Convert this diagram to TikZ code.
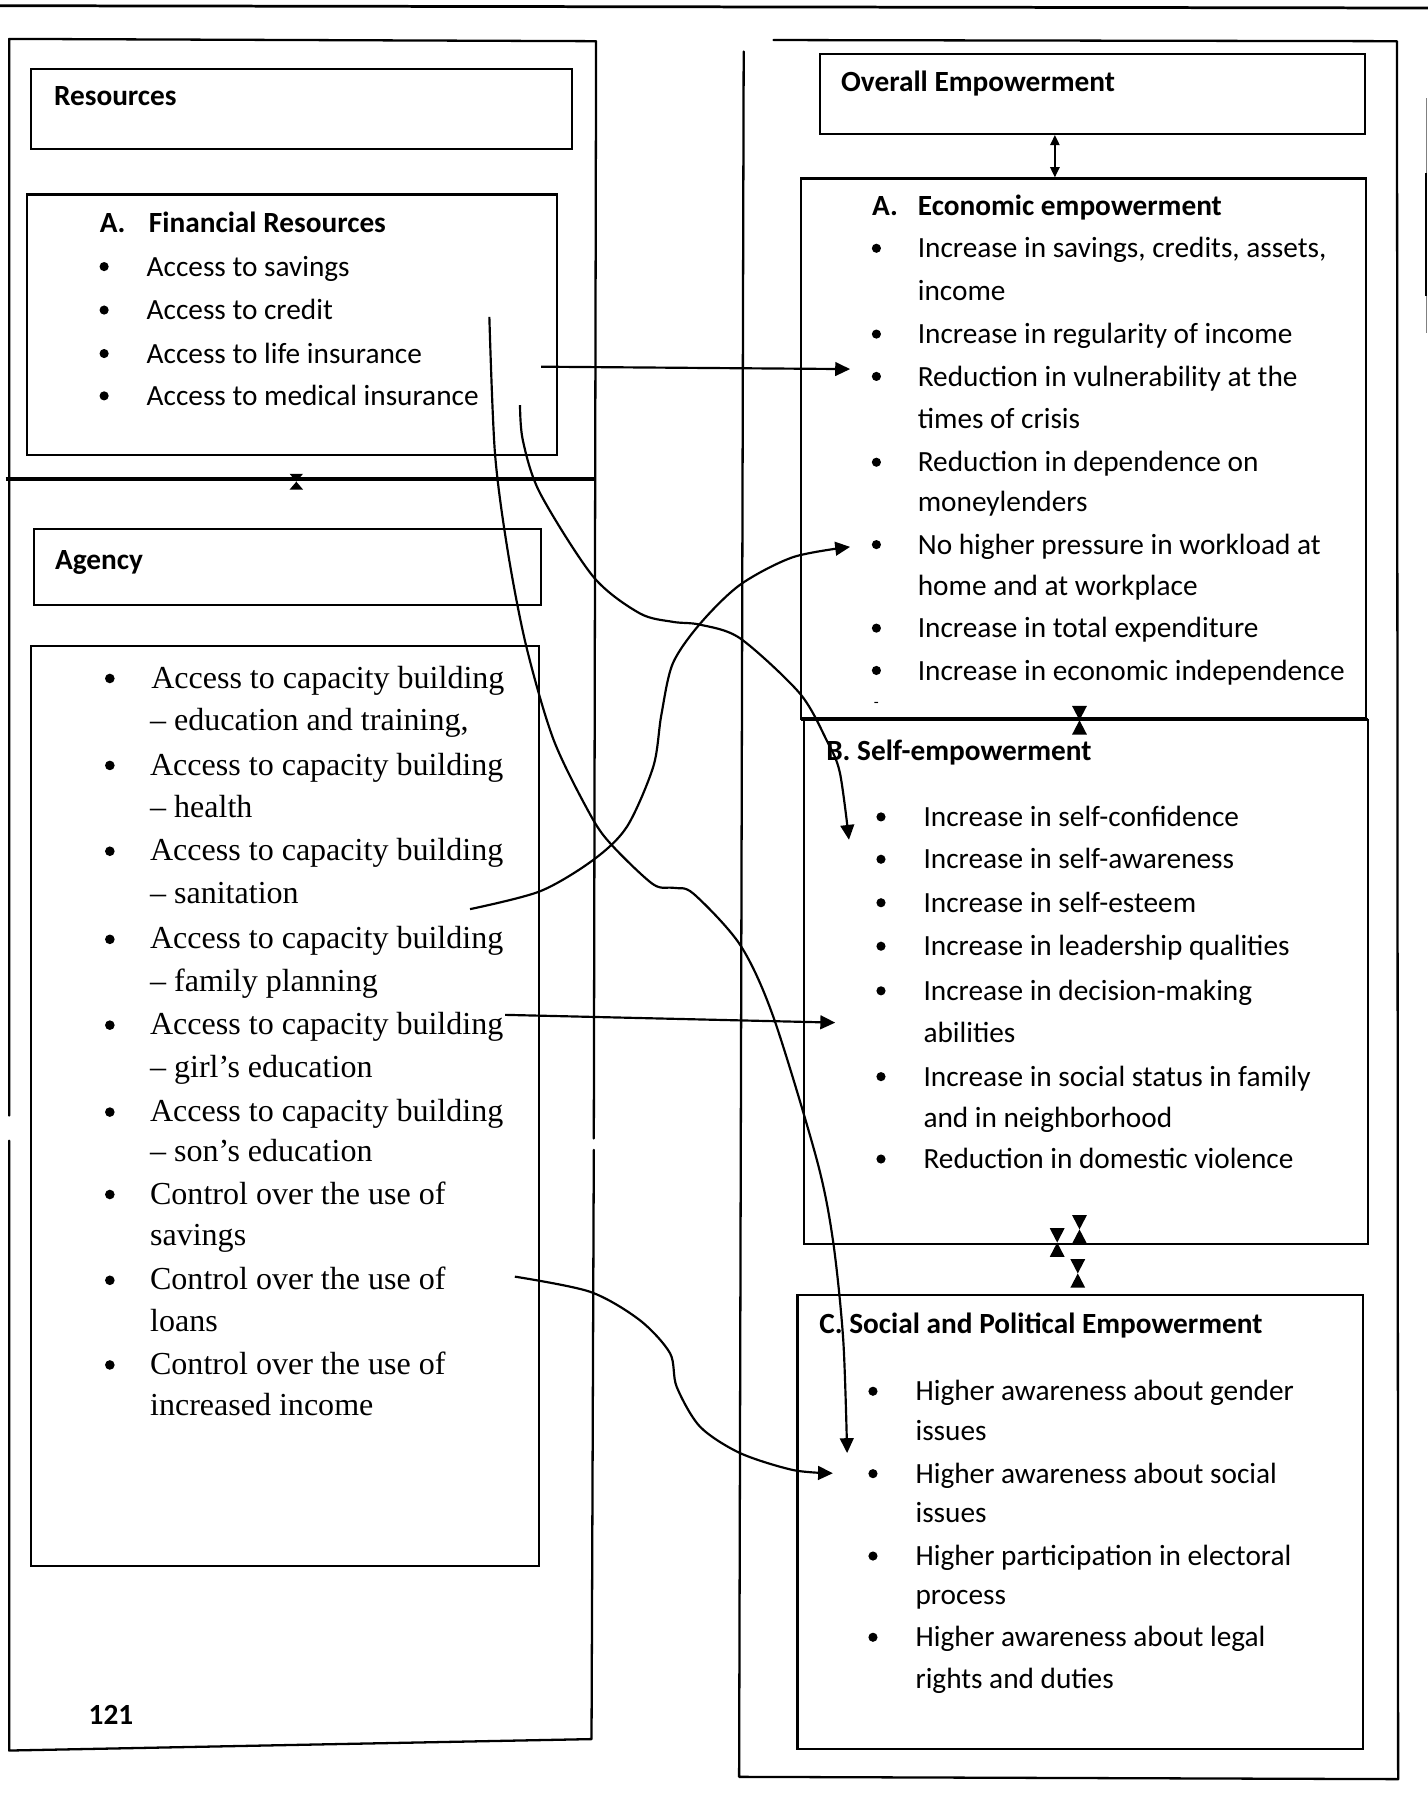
\documentclass[tikz,border=0pt]{standalone}
\usepackage{fontspec}
\setmainfont{Carlito}
\newfontfamily\tnrfont{Liberation Serif}
\usetikzlibrary{arrows.meta,fit}
\begin{document}
\begin{tikzpicture}[x=1pt,y=-1pt,
  frame/.style={line width=2pt, line cap=round, line join=round},
  boxst/.style={draw, line width=1.8pt, inner sep=0pt},
  divider/.style={line width=3pt},
  sf/.style={font=\fontsize{25.6}{30}\selectfont, inner sep=0pt, anchor=mid west, yshift=-6pt},
  sfb/.style={font=\fontsize{25.6}{30}\selectfont\bfseries, inner sep=0pt, anchor=mid west, yshift=-6pt},
  tr/.style={font=\tnrfont\fontsize{28}{32}\selectfont, inner sep=0pt, anchor=mid west, yshift=-6pt},
  conn/.style={line width=1.9pt, -{Triangle[length=13pt,width=12pt]}},
  dbl/.style={line width=1.9pt, {Triangle[length=9pt,width=8pt]}-{Triangle[length=9pt,width=8pt]}},
  hglass/.pic={\fill (-6.5,-12.5) -- (6.5,-12.5) -- (0,0) -- cycle;
               \fill (-6.5,12.5) -- (6.5,12.5) -- (0,0) -- cycle;}
]
\useasboundingbox (0,0) rectangle (1248,1568);

% page rules
\draw[line width=2.4pt] (0,5) -- (1248,7);
\draw[line width=1pt, gray] (1246.5,86) -- (1246.5,291);
\draw[line width=2.2pt] (1246.5,151) -- (1246.5,259);

% left outer frame (with small gaps)
\draw[frame] (8,975) -- (8,34) -- (521,36) -- (519,995);
\draw[frame] (519,1005) -- (517,1520) -- (8,1530) -- (8,997);
\draw[divider] (5,418.5) -- (519,418.5);

% right outer frame
\draw[frame] (650,45) -- (646,1553) -- (1222,1555) -- (1221,36) -- (676,35);

% boxes
\node[boxst, fit={(27,60) (500,130)}] (res) {};
\node[boxst, fit={(24,170) (487,398)}] (fin) {};
\node[boxst, fit={(30,462) (473,529)}] (agy) {};
\node[boxst, fit={(27,565) (471,1369)}] (agl) {};
\node[boxst, fit={(717,47) (1193,117)}] (ovr) {};
\node[boxst, fit={(700,156) (1194,628)}] (econ) {};
\node[boxst, fit={(703,629) (1196,1087)}] (self) {};
\node[boxst, fit={(697,1132) (1191,1529)}] (soc) {};
\draw[divider] (700,629) -- (1196,629);

% small hourglass marks
\pic[xscale=0.9, yscale=0.55] (h0) at (259,421) {hglass};
\pic (h1) at (943.5,629.5) {hglass};
\pic (h2) at (943.5,1074.5) {hglass};
\pic (h3) at (924,1086) {hglass};
\pic (h4) at (942,1113) {hglass};

% double arrow Overall <-> Economic
\coordinate (dx) at (922,0);
\draw[dbl] (ovr.south -| dx) -- (econ.north -| dx);

% ---------- Left texts ----------
\node[sfb] (tres) at (47,84) {Resources};
\node[sfb] (tfa) at (87,195) {A.};
\node[sfb] (tfin) at (130,195) {Financial Resources};
\foreach \y in {233,271,309,346} \fill (91,\y) circle (4);
\node[sf] (f1) at (128,233) {Access to savings};
\node[sf] (f2) at (128,271) {Access to credit};
\node[sf] (f3) at (128,309) {Access to life insurance};
\node[sf] (f4) at (128,346) {Access to medical insurance};

\node[sfb] (tagy) at (48,489) {Agency};
\foreach \y in {593,669,744,821,896,972,1044,1119,1193} \fill (96,\y) circle (4.2);
\node[tr] (g1) at (132,593) {Access to capacity building};
\node[tr] (g1b) at (131,630) {– education and training,};
\node[tr] (g2) at (131,669) {Access to capacity building};
\node[tr] (g2b) at (131,706) {– health};
\node[tr] (g3) at (131,744) {Access to capacity building};
\node[tr] (g3b) at (131,781) {– sanitation};
\node[tr] (g4) at (131,821) {Access to capacity building};
\node[tr] (g4b) at (131,858) {– family planning};
\node[tr] (g5) at (131,896) {Access to capacity building};
\node[tr] (g5b) at (131,933) {– girl’s education};
\node[tr] (g6) at (131,972) {Access to capacity building};
\node[tr] (g6b) at (131,1007) {– son’s education};
\node[tr] (g7) at (131,1044) {Control over the use of};
\node[tr] (g7b) at (131,1080) {savings};
\node[tr] (g8) at (131,1119) {Control over the use of};
\node[tr] (g8b) at (131,1155) {loans};
\node[tr] (g9) at (131,1193) {Control over the use of};
\node[tr] (g9b) at (131,1229) {increased income};

\node[sfb, anchor=mid] (pg) at (97,1499) {121};

% ---------- Right texts ----------
\node[sfb] (tovr) at (735,72) {Overall Empowerment};

\node[sfb] (tea) at (762,180) {A.};
\node[sfb] (teco) at (802,180) {Economic empowerment};
\foreach \y in {217,292,329,404,476,549,586} \fill (766,\y) circle (4);
\node[sf] (e1) at (802,217) {Increase in savings, credits, assets,};
\node[sf] (e1b) at (802,254) {income};
\node[sf] (e2) at (802,292) {Increase in regularity of income};
\node[sf] (e3) at (802,329) {Reduction in vulnerability at the};
\node[sf] (e3b) at (802,366) {times of crisis};
\node[sf] (e4) at (802,404) {Reduction in dependence on};
\node[sf] (e4b) at (802,439) {moneylenders};
\node[sf] (e5) at (802,476) {No higher pressure in workload at};
\node[sf] (e5b) at (802,512) {home and at workplace};
\node[sf] (e6) at (802,549) {Increase in total expenditure};
\node[sf] (e7) at (802,586) {Increase in economic independence};
\node[font=\fontsize{14}{16}\selectfont, inner sep=0pt] (edash) at (766,616) {-};

\node[sfb] (tself) at (722,656) {B. Self-empowerment};
\foreach \y in {714,751,789,827,866,941,1013} \fill (770,\y) circle (4);
\node[sf] (s1) at (807,714) {Increase in self-confidence};
\node[sf] (s2) at (807,751) {Increase in self-awareness};
\node[sf] (s3) at (807,789) {Increase in self-esteem};
\node[sf] (s4) at (807,827) {Increase in leadership qualities};
\node[sf] (s5) at (807,866) {Increase in decision-making};
\node[sf] (s5b) at (807,903) {abilities};
\node[sf] (s6) at (807,941) {Increase in social status in family};
\node[sf] (s6b) at (807,977) {and in neighborhood};
\node[sf] (s7) at (807,1013) {Reduction in domestic violence};

\node[sfb] (tsoc) at (716,1157) {C. Social and Political Empowerment};
\foreach \y in {1216,1288,1360,1431} \fill (763,\y) circle (4);
\node[sf] (c1) at (800,1216) {Higher awareness about gender};
\node[sf] (c1b) at (800,1251) {issues};
\node[sf] (c2) at (800,1288) {Higher awareness about social};
\node[sf] (c2b) at (800,1322) {issues};
\node[sf] (c3) at (800,1360) {Higher participation in electoral};
\node[sf] (c3b) at (800,1394) {process};
\node[sf] (c4) at (800,1431) {Higher awareness about legal};
\node[sf] (c4b) at (800,1467) {rights and duties};

% ---------- Connectors ----------
\coordinate (a1s) at (473,320.5);
\coordinate (a1e) at (743,322.6);
\draw[conn] (a1s) -- (a1e);

\coordinate (a2s) at (427.7,277);
\coordinate (a2e) at (740.4,1270);
\draw[conn] plot[smooth, tension=0.5] coordinates {(a2s) (432.6,396) (444,483) (460,565) (484,647) (517,714) (536,740) (571,773) (589,776) (606,781) (647,826) (676,889) (714,1014) (728,1084) (737,1171) (a2e)};

\coordinate (a3s) at (454.5,354);
\coordinate (a3e) at (742,734);
\draw[conn] plot[smooth, tension=0.5] coordinates {(a3s) (457,385) (472,431) (518.5,504) (559,536) (588,543.5) (612,546) (647,558) (699,606) (722.5,647) (734,675) (a3e)};

\coordinate (a4s) at (410.8,794.6);
\coordinate (a4e) at (743,478);
\draw[conn] plot[smooth, tension=0.5] coordinates {(a4s) (472,779) (518.5,751.6) (548,722.5) (571,670) (578,625) (588,580) (612,545) (647,511) (693,487) (a4e)};

\coordinate (a5s) at (441.4,887);
\coordinate (a5e) at (730,893.8);
\draw[conn] (a5s) -- (a5e);

\coordinate (a6s) at (450,1115.8);
\coordinate (a6e) at (728,1287.6);
\draw[conn] plot[smooth, tension=0.5] coordinates {(a6s) (515.6,1129) (559,1153.7) (585.6,1182.7) (591.4,1212) (611.8,1246.9) (646.8,1270) (693,1284.8) (a6e)};

\end{tikzpicture}
\end{document}
